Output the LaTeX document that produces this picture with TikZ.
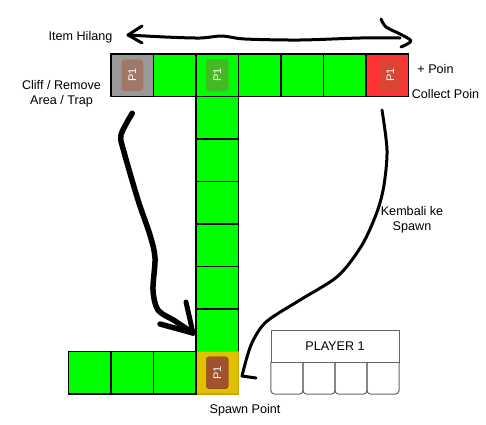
\documentclass[tikz,border=0pt]{standalone}
\usepackage{fontspec}
\setmainfont{Liberation Sans}
\usetikzlibrary{positioning}
\definecolor{grn}{RGB}{0,255,0}
\definecolor{cliffgray}{RGB}{153,153,153}
\definecolor{poinred}{RGB}{255,51,51}
\definecolor{spawnyellow}{RGB}{224,192,0}
\definecolor{spawnedge}{RGB}{200,166,0}
\definecolor{boxgray}{RGB}{100,100,100}
\begin{document}
\begin{tikzpicture}[x=1pt, y=-1pt, node distance=42.5pt,
    cell/.style = {draw, fill=grn, minimum size=42.5pt, inner sep=0pt, line width=1.5pt},
    token/.style = {draw, rounded corners=3pt, minimum width=32pt, minimum height=22pt, rotate=90, inner sep=0pt, text=white, font=\fontsize{11}{11}\selectfont},
    lbl/.style = {font=\fontsize{12.6}{15}\selectfont, align=center, inner sep=0pt},
    slot/.style = {minimum size=32pt, inner sep=0pt},
    ink/.style = {line width=3pt, line cap=round, line join=round}]
        \useasboundingbox (0,0) rectangle (486,424);
        % top row
        \node[cell, fill=cliffgray] (c0) at (132.25,75.25) {};
        \node[cell] (c1) [right of=c0] {};
        \node[cell] (c2) [right of=c1] {};
        \node[cell] (c3) [right of=c2] {};
        \node[cell] (c4) [right of=c3] {};
        \node[cell] (c5) [right of=c4] {};
        \node[cell, fill=poinred] (c6) [right of=c5] {};
        % column
        \node[cell] (v1) [below of=c2] {};
        \node[cell] (v2) [below of=v1] {};
        \node[cell] (v3) [below of=v2] {};
        \node[cell] (v4) [below of=v3] {};
        \node[cell] (v5) [below of=v4] {};
        \node[cell] (v6) [below of=v5] {};
        % bottom row
        \node[cell, fill=spawnyellow, draw=spawnedge] (s) [below of=v6] {};
        \node[cell] (b1) [left of=s] {};
        \node[cell] (b2) [left of=b1] {};
        \node[cell] (b3) [left of=b2] {};
        %
        \node[token, fill={rgb,255:red,160;green,120;blue,104}, draw={rgb,255:red,185;green,145;blue,125}] (p0) at (c0) {P1};
        \node[token, fill={rgb,255:red,68;green,187;blue,34}, draw={rgb,255:red,90;green,170;blue,50}] (p2) at (c2) {P1};
        \node[token, fill={rgb,255:red,218;green,68;blue,52}, draw={rgb,255:red,200;green,70;blue,55}] (p6) at ([xshift=3pt]c6.center) {P1};
        \node[token, fill={rgb,255:red,160;green,82;blue,45}, draw={rgb,255:red,125;green,60;blue,30}] (ps) at (s) {P1};
        %
        \node[lbl] (hilang) at (80.5,37.5) {Item Hilang};
        \node[lbl] (cliff) at (61.5,94) {Cliff / Remove\\Area / Trap};
        \node[lbl] (plus) at (435.5,68.5) {+ Poin};
        \node[lbl] (collect) at (445.5,93.5) {Collect Poin};
        \node[lbl] (kembali) at (412,220) {Kembali ke\\Spawn};
        \node[lbl] (spawnlbl) at (245,410.5) {Spawn Point};
        %
        \node[lbl, draw=boxgray, line width=1pt, minimum width=128pt, minimum height=32pt] (player) at (335,346) {PLAYER 1};
        \node[slot] (k1) at (287,378) {};
        \node[slot] (k2) [right of=k1, node distance=32pt] {};
        \node[slot] (k3) [right of=k2, node distance=32pt] {};
        \node[slot] (k4) [right of=k3, node distance=32pt] {};
        \foreach \k in {k1,k2,k3,k4}
            \draw[boxgray, line width=1pt, rounded corners=4pt] (\k.north west) -- (\k.south west) -- (\k.south east) -- (\k.north east);
        %
        \coordinate (lost) at (128,35);
        \coordinate (gain) at (411,41);
        \coordinate (fall) at (193,333);
        \coordinate (back) at (242,376);
        \draw[ink] plot[smooth] coordinates {(lost) (165,37) (200,38) (222,36) (245,39) (300,40) (360,38) (400,38)};
        \draw[ink] (142,26) -- (lost) -- (142,43);
        \draw[ink] plot[smooth] coordinates {(381,19) (386,27) (400,34) (gain) (401,47)};
        \draw[ink, line width=5.5pt] plot[smooth] coordinates {([yshift=-16pt]c0.south) (121,135) (124,152) (138,200) (150,235) (155,258) (153,290) (158,310) (175,321) (fall)};
        \draw[ink, line width=5pt] (fall) -- (186,302);
        \draw[ink, line width=5.5pt] (fall) -- (160,324);
        \draw[ink] plot[smooth] coordinates {(382,110) (387,150) (384,185) (377,212) (362,245) (338,276) (300,300) (266,322) (251,345) (back)} -- (256,378);
\end{tikzpicture}
\end{document}
